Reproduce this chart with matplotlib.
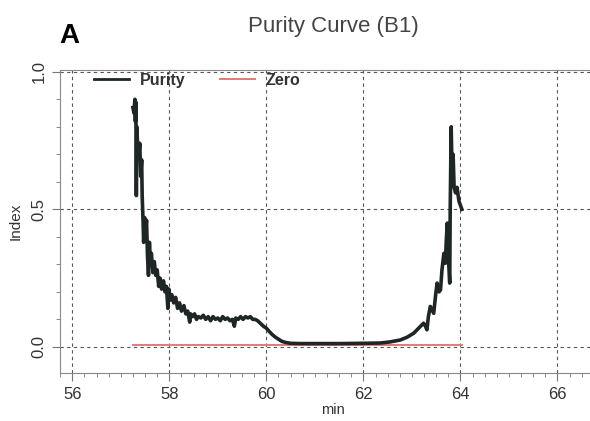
import numpy as np
import matplotlib
matplotlib.use("Agg")
import matplotlib.pyplot as plt
from matplotlib.ticker import MultipleLocator

plt.rcParams['font.family'] = ['Liberation Sans', 'DejaVu Sans']

# purity trace (min, index)
purity_min = [57.25, 57.27, 57.29, 57.30, 57.31, 57.32, 57.33, 57.35, 57.37, 57.39,
              57.41, 57.43, 57.44, 57.46, 57.47, 57.49, 57.51, 57.53, 57.55, 57.57,
              57.59, 57.61, 57.63, 57.66, 57.69, 57.72, 57.75, 57.78, 57.81, 57.84,
              57.88, 57.91, 57.94, 57.97, 57.99, 58.02, 58.05, 58.09, 58.13, 58.17,
              58.21, 58.25, 58.30, 58.34, 58.38, 58.42, 58.44, 58.48, 58.52, 58.56,
              58.60, 58.65, 58.70, 58.75, 58.80, 58.85, 58.90, 58.95, 59.00, 59.05,
              59.10, 59.15, 59.20, 59.25, 59.30, 59.34, 59.37, 59.42, 59.47, 59.52,
              59.57, 59.62, 59.67, 59.72, 59.77, 59.82, 59.88, 59.94, 60.00, 60.06,
              60.12, 60.18, 60.25, 60.32, 60.40, 60.50, 60.70, 61.00, 61.50, 62.00,
              62.35, 62.55, 62.76, 62.90, 63.04, 63.14, 63.24, 63.28, 63.31, 63.34,
              63.38, 63.45, 63.49, 63.52, 63.56, 63.59, 63.62, 63.66, 63.69, 63.71,
              63.73, 63.76, 63.78, 63.79, 63.81, 63.83, 63.85, 63.87, 63.90, 63.93,
              63.97, 64.03]
purity_val = [0.87, 0.85, 0.90, 0.82, 0.89, 0.55, 0.80, 0.72, 0.69, 0.74,
              0.62, 0.68, 0.55, 0.45, 0.38, 0.47, 0.42, 0.46, 0.33, 0.26,
              0.38, 0.30, 0.34, 0.27, 0.31, 0.26, 0.28, 0.22, 0.25, 0.21,
              0.24, 0.20, 0.22, 0.14, 0.21, 0.17, 0.19, 0.16, 0.18, 0.14,
              0.16, 0.13, 0.15, 0.12, 0.13, 0.09, 0.12, 0.11, 0.12, 0.10,
              0.11, 0.105, 0.115, 0.10, 0.11, 0.095, 0.11, 0.10, 0.105, 0.095,
              0.11, 0.10, 0.105, 0.095, 0.10, 0.075, 0.105, 0.10, 0.11, 0.10,
              0.11, 0.105, 0.11, 0.10, 0.10, 0.095, 0.085, 0.075, 0.068, 0.056,
              0.045, 0.036, 0.028, 0.020, 0.016, 0.013, 0.012, 0.012, 0.012, 0.013,
              0.014, 0.018, 0.025, 0.035, 0.050, 0.068, 0.086, 0.075, 0.062, 0.11,
              0.147, 0.122, 0.19, 0.232, 0.20, 0.207, 0.28, 0.34, 0.304, 0.39,
              0.45, 0.30, 0.232, 0.50, 0.80, 0.62, 0.70, 0.58, 0.56, 0.58,
              0.53, 0.50]

zero_min = [57.25, 64.03]
zero_val = [0.005, 0.005]

x_ticks = [56, 58, 60, 62, 64, 66]
y_ticks = [0.0, 0.5, 1.0]
y_ticklabels = ['0.0', '0.5', '1.0']

fig = plt.figure(figsize=(5.9, 4.21), dpi=100)
ax = fig.add_axes([0.102, 0.114, 0.925, 0.72])

ax.plot(zero_min, zero_val, color='#e07a7a', lw=1.4, label='Zero', zorder=2)
ax.plot(purity_min, purity_val, color='#1e2626', lw=2.6, label='Purity', zorder=3)

ax.set_xlim(55.75, 67.0)
ax.set_ylim(-0.095, 1.007)
ax.set_xticks(x_ticks)
ax.set_yticks(y_ticks)
ax.set_yticklabels(y_ticklabels, rotation=90, va='center')
ax.xaxis.set_minor_locator(MultipleLocator(0.25))
ax.yaxis.set_minor_locator(MultipleLocator(0.1))

ax.grid(True, which='major', color='#555555', ls=(0, (3, 3)), lw=0.8)
ax.spines['right'].set_visible(False)
for s in ['left', 'bottom', 'top']:
    ax.spines[s].set_color('#888888')
ax.tick_params(which='major', length=5.5, color='#777777', labelsize=12, labelcolor='#333333', pad=4.5)
ax.tick_params(which='minor', length=3, color='#777777')

ax.set_xlabel('min', fontsize=10.5, color='#333333', labelpad=1)
ax.set_ylabel('Index', fontsize=11, color='#333333', labelpad=6)
ax.set_title('Purity Curve (B1)', fontsize=16, color='#444444', pad=27)

h, l = ax.get_legend_handles_labels()
leg = ax.legend(h[::-1], l[::-1], loc='upper left', ncol=2, frameon=False,
                bbox_to_anchor=(0.062, 0.99), borderpad=0, borderaxespad=0,
                handlelength=2.2, handletextpad=0.7, columnspacing=2.1,
                prop={'weight': 'bold', 'size': 11.5})
for t in leg.get_texts():
    t.set_color('#333333')
leg.get_lines()[0].set_linewidth(2.0)

fig.text(0.100, 0.915, 'A', fontsize=20, fontweight='bold', ha='left', va='center')

fig.savefig('out.png', dpi=100)
